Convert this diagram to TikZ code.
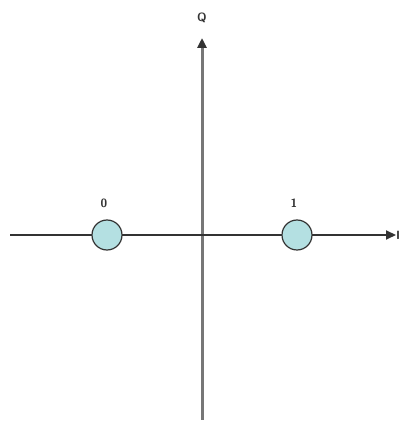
\documentclass[tikz,border=0pt]{standalone}
\usetikzlibrary{arrows.meta}
\definecolor{ptfill}{HTML}{B4E0E2}
\definecolor{axgray}{HTML}{777777}
\definecolor{axdark}{HTML}{333333}
\tikzset{
  pt/.style={circle,draw=axdark,fill=ptfill,line width=1.2pt,minimum size=30pt,inner sep=0pt},
  lbl/.style={font=\sffamily\bfseries\large,text=axdark,inner sep=1pt},
  axis/.style={-{Triangle[length=10pt,width=9pt,color=axdark]}}
}
\begin{document}
\begin{tikzpicture}[x=1pt,y=1pt]
\useasboundingbox (0,0) rectangle (405,423);
\coordinate (hl) at (10,188);
\coordinate (hr) at (396,188);
\coordinate (vb) at (202,3);
\coordinate (vt) at (202,385);
\draw[axis,axgray,line width=3pt] (vb) -- (vt);
\draw[axis,axdark,line width=2pt] (hl) -- (hr);
\node[pt] (p0) at (107,188) {};
\node[pt] (p1) at (297,188) {};
\node[lbl] (l0) at (104,220) {0};
\node[lbl] (l1) at (294,220) {1};
\node[lbl,anchor=west] (li) at (395,188) {I};
\node[lbl] (lq) at (202,405) {Q};
\end{tikzpicture}
\end{document}
